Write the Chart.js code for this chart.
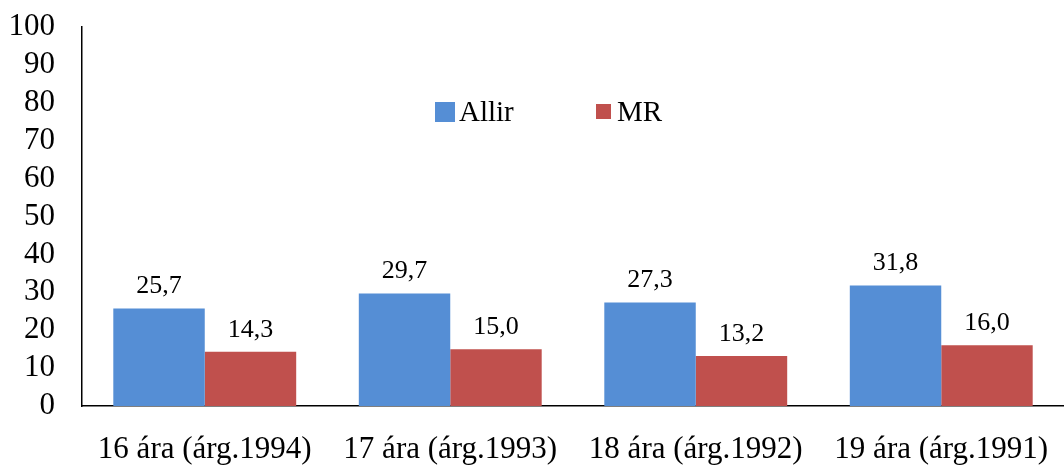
<!DOCTYPE html>
<html><head><meta charset="utf-8">
<script src="https://cdn.jsdelivr.net/npm/chart.js@4/dist/chart.umd.min.js"></script>
<style>html,body{margin:0;padding:0;background:#fff}#wrap{width:1064px;height:468px}</style>
</head><body><div id="wrap"><canvas id="c" width="1064" height="468"></canvas></div>
<script>
const categories = ["16 ára (árg.1994)", "17 ára (árg.1993)", "18 ára (árg.1992)", "19 ára (árg.1991)"];
const allirValues = [25.7, 29.7, 27.3, 31.8];
const mrValues = [14.3, 15.0, 13.2, 16.0];
const seriesNames = ["Allir", "MR"];
const yTicks = [0, 10, 20, 30, 40, 50, 60, 70, 80, 90, 100];

const FONT = "'Liberation Serif', 'Times New Roman', serif";

const valueLabels = {
  id: 'valueLabels',
  afterDatasetsDraw(chart) {
    const ctx = chart.ctx;
    ctx.save();
    ctx.font = "26px " + FONT;
    ctx.fillStyle = '#000';
    ctx.textAlign = 'center';
    ctx.textBaseline = 'bottom';
    chart.data.datasets.forEach((ds, di) => {
      chart.getDatasetMeta(di).data.forEach((bar, i) => {
        ctx.fillText(ds.data[i].toFixed(1).replace('.', ','), bar.x, bar.y - 9);
      });
    });
    ctx.restore();
  }
};

const innerLegend = {
  id: 'innerLegend',
  afterDraw(chart) {
    const ctx = chart.ctx;
    ctx.save();
    ctx.font = "29px " + FONT;
    ctx.textBaseline = 'middle';
    const y = 112;
    const xs = [435, 596];
    chart.data.datasets.forEach((ds, di) => {
      ctx.fillStyle = ds.backgroundColor;
      if (di === 0) ctx.fillRect(xs[di], y - 10, 20, 20);
      else ctx.fillRect(xs[di], y - 8, 15, 15);
      ctx.fillStyle = '#000';
      ctx.fillText(ds.label, xs[di] + (di === 0 ? 24 : 21), y + 1);
    });
    ctx.restore();
  }
};

new Chart(document.getElementById('c'), {
  type: 'bar',
  data: {
    labels: categories,
    datasets: [
      { label: seriesNames[0], data: allirValues, backgroundColor: '#558ED5' },
      { label: seriesNames[1], data: mrValues, backgroundColor: '#C0504D' }
    ]
  },
  options: {
    responsive: false,
    animation: false,
    devicePixelRatio: 1,
    layout: { padding: { top: 27, right: 0, left: 0, bottom: 0 } },
    plugins: { legend: { display: false }, tooltip: { enabled: false } },
    datasets: { bar: { categoryPercentage: 0.745, barPercentage: 1.0 } },
    scales: {
      x: {
        grid: { display: false, drawTicks: false },
        border: { display: true, color: '#000', width: 1.5 },
        ticks: { color: '#000', font: { family: FONT, size: 31 }, padding: 25, maxRotation: 0, autoSkip: false },
        afterFit(s) { s.height = 62; s.paddingLeft = 0; s.paddingRight = 0; }
      },
      y: {
        min: 0, max: 100,
        afterBuildTicks(s) { s.ticks = yTicks.map(v => ({ value: v })); },
        grid: { display: false, drawTicks: false },
        border: { display: true, color: '#000', width: 1.5 },
        ticks: { color: '#000', font: { family: FONT, size: 31 }, padding: 27, autoSkip: false },
        afterFit(s) { s.width = 82; s.paddingTop = 0; s.paddingBottom = 0; }
      }
    }
  },
  plugins: [valueLabels, innerLegend]
});
</script></body></html>
